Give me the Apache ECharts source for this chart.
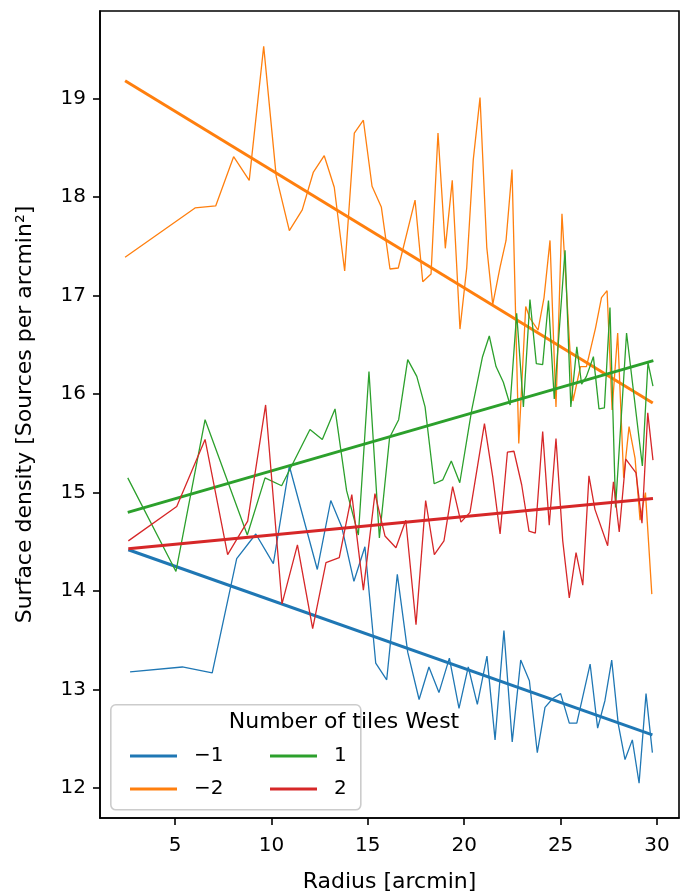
<!DOCTYPE html>
<html>
<head>
<meta charset="utf-8">
<script src="https://cdn.jsdelivr.net/npm/echarts@6/dist/echarts.min.js"></script>
<style>
  html, body { margin: 0; padding: 0; background: #ffffff; }
  #chart { width: 688px; height: 892px; }
</style>
</head>
<body>
<div id="chart"></div>
<script>
// Axis ticks
const xTicks = [5, 10, 15, 20, 25, 30];
const yTicks = [12, 13, 14, 15, 16, 17, 18, 19];

// Number of tiles West = −1
const radiusM1 = [2.67, 5.38, 6.93, 8.20, 9.19, 10.10, 10.93, 12.38, 13.08, 13.65, 14.28, 14.85, 15.41, 15.98, 16.53, 17.07, 17.66, 18.17, 18.69, 19.23, 19.73, 20.21, 20.68, 21.18, 21.60, 22.06, 22.49, 22.93, 23.38, 23.79, 24.19, 24.59, 25.00, 25.45, 25.84, 26.53, 26.92, 27.30, 27.65, 27.99, 28.34, 28.72, 29.07, 29.43, 29.76];
const densityM1 = [13.18, 13.23, 13.17, 14.33, 14.58, 14.28, 15.27, 14.22, 14.92, 14.65, 14.10, 14.45, 13.27, 13.10, 14.17, 13.38, 12.90, 13.23, 12.97, 13.32, 12.81, 13.23, 12.85, 13.34, 12.49, 13.60, 12.47, 13.30, 13.09, 12.36, 12.82, 12.91, 12.96, 12.66, 12.66, 13.26, 12.61, 12.89, 13.30, 12.65, 12.29, 12.49, 12.05, 12.96, 12.36];
const fitM1 = [[2.58, 14.42], [29.76, 12.54]];

// Number of tiles West = −2
const radiusM2 = [2.41, 6.04, 7.11, 8.04, 8.85, 9.60, 10.25, 10.93, 11.60, 12.17, 12.74, 13.26, 13.80, 14.30, 14.77, 15.22, 15.70, 16.15, 16.58, 17.45, 17.85, 18.28, 18.64, 19.02, 19.38, 19.78, 20.13, 20.47, 20.82, 21.17, 21.48, 21.86, 22.17, 22.48, 22.83, 23.19, 23.41, 23.83, 24.14, 24.45, 24.76, 25.07, 25.64, 26.03, 26.34, 26.81, 27.12, 27.41, 27.67, 27.96, 28.27, 28.55, 28.86, 29.12, 29.40, 29.73];
const densityM2 = [17.39, 17.89, 17.91, 18.41, 18.17, 19.53, 18.21, 17.66, 17.87, 18.25, 18.42, 18.10, 17.25, 18.65, 18.78, 18.11, 17.90, 17.27, 17.28, 17.97, 17.14, 17.22, 18.65, 17.48, 18.17, 16.66, 17.28, 18.38, 19.01, 17.49, 16.91, 17.29, 17.56, 18.28, 15.50, 16.89, 16.77, 16.65, 16.98, 17.56, 15.87, 17.83, 15.93, 16.28, 16.28, 16.67, 16.98, 17.05, 15.84, 16.62, 15.15, 15.67, 15.35, 14.72, 15.00, 13.97];
const fitM2 = [[2.41, 19.18], [29.78, 15.91]];

// Number of tiles West = 1
const radiusP1 = [2.55, 5.05, 6.56, 8.75, 9.67, 10.53, 12.00, 12.64, 13.30, 13.90, 14.51, 15.06, 15.60, 16.13, 16.60, 17.07, 17.54, 17.97, 18.44, 18.89, 19.33, 19.77, 20.39, 20.95, 21.30, 21.65, 22.03, 22.38, 22.72, 23.07, 23.41, 23.74, 24.07, 24.37, 24.67, 25.23, 25.53, 25.84, 26.09, 26.34, 26.70, 26.99, 27.27, 27.56, 27.85, 28.42, 29.24, 29.53, 29.79];
const densityP1 = [15.15, 14.20, 15.74, 14.57, 15.15, 15.07, 15.64, 15.54, 15.85, 15.02, 14.57, 16.23, 14.54, 15.56, 15.74, 16.35, 16.18, 15.87, 15.09, 15.13, 15.32, 15.10, 15.84, 16.38, 16.59, 16.28, 16.12, 15.89, 16.82, 15.87, 16.96, 16.31, 16.30, 16.95, 15.95, 17.46, 15.87, 16.48, 16.10, 16.18, 16.38, 15.85, 15.86, 16.88, 14.85, 16.62, 15.27, 16.32, 16.08];
const fitP1 = [[2.55, 14.80], [29.81, 16.34]];

// Number of tiles West = 2
const radiusP2 = [2.58, 5.09, 6.56, 7.73, 8.77, 9.70, 10.55, 11.35, 12.14, 12.83, 13.52, 14.17, 14.77, 15.37, 15.89, 16.46, 16.97, 17.50, 18.00, 18.45, 18.95, 19.40, 19.83, 20.30, 21.05, 21.48, 21.86, 22.24, 22.58, 22.98, 23.36, 23.69, 24.07, 24.41, 24.76, 25.11, 25.45, 25.80, 26.15, 26.47, 26.78, 27.44, 27.74, 28.04, 28.38, 28.91, 29.22, 29.52, 29.79];
const densityP2 = [14.51, 14.86, 15.54, 14.37, 14.71, 15.89, 13.87, 14.47, 13.62, 14.29, 14.34, 14.98, 14.01, 14.99, 14.56, 14.44, 14.72, 13.66, 14.92, 14.37, 14.51, 15.06, 14.70, 14.80, 15.70, 15.16, 14.58, 15.41, 15.42, 15.08, 14.61, 14.59, 15.62, 14.67, 15.55, 14.51, 13.93, 14.39, 14.06, 15.17, 14.83, 14.46, 15.11, 14.60, 15.34, 15.20, 14.69, 15.81, 15.33];
const fitP2 = [[2.58, 14.43], [29.79, 14.94]];

const groups = [
  { name: '\u22121', color: '#1f77b4', r: radiusM1, d: densityM1, fit: fitM1 },
  { name: '\u22122', color: '#ff7f0e', r: radiusM2, d: densityM2, fit: fitM2 },
  { name: '1',      color: '#2ca02c', r: radiusP1, d: densityP1, fit: fitP1 },
  { name: '2',      color: '#d62728', r: radiusP2, d: densityP2, fit: fitP2 }
];

const FONT = 'DejaVu Sans';
const series = [];
groups.forEach(g => {
  series.push({
    name: g.name, type: 'line', data: g.r.map((x, i) => [x, g.d[i]]),
    symbol: 'none', smooth: false, color: g.color,
    lineStyle: { width: 1.3, color: g.color }, z: 2
  });
  series.push({
    name: 'fit ' + g.name, type: 'line', data: g.fit,
    symbol: 'none', smooth: false, color: g.color,
    lineStyle: { width: 3, color: g.color }, z: 2
  });
});

const legendCommon = {
  orient: 'vertical', icon: 'rect', itemWidth: 47, itemHeight: 3, itemGap: 9,
  textStyle: { fontFamily: FONT, fontSize: 20, color: '#000', lineHeight: 24, padding: [0, 0, 0, 12] },
  selectedMode: false, z: 10
};

const chart = echarts.init(document.getElementById('chart'), null, { renderer: 'canvas' });
chart.setOption({
  animation: false,
  backgroundColor: '#ffffff',
  grid: { left: 100, top: 11, width: 579, height: 807, containLabel: false, outerBoundsMode: 'none',
          show: true, borderColor: '#000', borderWidth: 1.6, backgroundColor: 'transparent' },
  xAxis: {
    type: 'value', min: 1.11, max: 31.14,
    name: 'Radius [arcmin]', nameLocation: 'middle', nameGap: 53,
    nameTextStyle: { fontFamily: FONT, fontSize: 22, color: '#000' },
    axisLine: { show: true, lineStyle: { color: '#000', width: 1.6 } },
    axisTick: { show: true, length: 7, lineStyle: { color: '#000', width: 1.6 }, customValues: xTicks },
    axisLabel: { margin: 18, fontFamily: FONT, fontSize: 20, color: '#000', customValues: xTicks, formatter: v => String(v) },
    splitLine: { show: false }
  },
  yAxis: {
    type: 'value', min: 11.697, max: 19.889,
    name: 'Surface density [Sources per arcmin\u00b2]', nameLocation: 'middle', nameGap: 64, nameRotate: 90,
    nameTextStyle: { fontFamily: FONT, fontSize: 22, color: '#000' },
    axisLine: { show: true, lineStyle: { color: '#000', width: 1.6 } },
    axisTick: { show: true, length: 7, lineStyle: { color: '#000', width: 1.6 }, customValues: yTicks },
    axisLabel: { margin: 14, fontFamily: FONT, fontSize: 20, color: '#000', customValues: yTicks, formatter: v => String(v) },
    splitLine: { show: false }
  },
  legend: [
    Object.assign({ left: 125, top: 739, data: ['\u22121', '\u22122'] }, legendCommon),
    Object.assign({ left: 265, top: 739, data: ['1', '2'] }, legendCommon)
  ],
  graphic: [
    { type: 'rect', left: 110, top: 704, z: 5,
      shape: { width: 250, height: 105, r: 5 },
      style: { fill: 'rgba(255,255,255,0.8)', stroke: '#cccccc', lineWidth: 1.6 } },
    { type: 'text', left: 'center', z: 6, x: 0, top: 711,
      style: { text: 'Number of tiles West', fontFamily: FONT, fontSize: 22, fill: '#000' } }
  ],
  series: series
});
</script>
</body>
</html>
